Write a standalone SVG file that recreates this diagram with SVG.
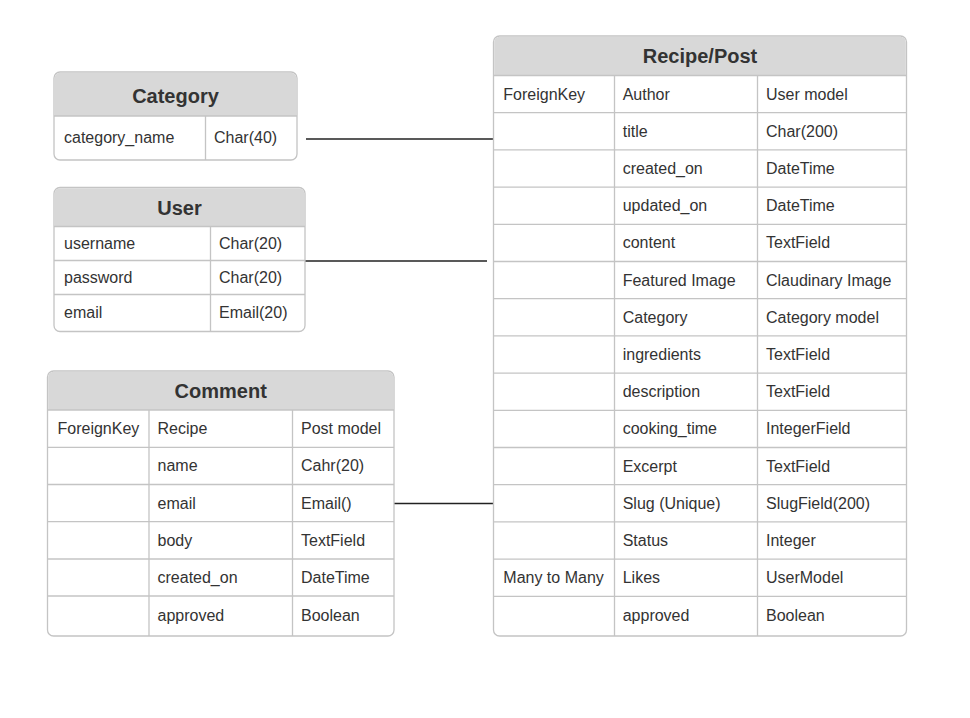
<svg xmlns="http://www.w3.org/2000/svg" width="970" height="718" viewBox="0 0 970 718">
<style>
.box{fill:#ffffff;stroke:#c4c4c4;stroke-width:1.3}
.hdr{fill:#d8d8d8;stroke:none}
.grid{stroke:#c4c4c4;stroke-width:1.3;fill:none}
.title{font-family:"Liberation Sans",Arial,sans-serif;font-size:20px;font-weight:bold;fill:#333333;text-anchor:middle}
.cell{font-family:"Liberation Sans",Arial,sans-serif;font-size:16px;fill:#333333}
.conn{stroke:#222222;stroke-width:1.3;fill:none}
</style>
<rect width="970" height="718" fill="#ffffff"/>
<g id="connectors">
<line class="conn" x1="306" y1="139" x2="493" y2="139"/>
<line class="conn" x1="305" y1="261" x2="487" y2="261"/>
<line class="conn" x1="394" y1="503.5" x2="493" y2="503.5"/>
</g>
<g id="category">
<rect class="box" x="54" y="72" width="243" height="88" rx="6"/>
<path class="hdr" d="M54.7,116 V78 a5.3,5.3 0 0 1 5.3,-5.3 H291 a5.3,5.3 0 0 1 5.3,5.3 V116 Z"/>
<line class="grid" x1="54" y1="116" x2="297" y2="116"/>
<line class="grid" x1="205.5" y1="116" x2="205.5" y2="160"/>
<text class="title" x="175.5" y="102.5">Category</text>
<text class="cell" x="64" y="143">category_name</text>
<text class="cell" x="214" y="143">Char(40)</text>
</g>
<g id="user">
<rect class="box" x="54" y="187.5" width="251" height="144" rx="6"/>
<path class="hdr" d="M54.7,226.5 V193.5 a5.3,5.3 0 0 1 5.3,-5.3 H299 a5.3,5.3 0 0 1 5.3,5.3 V226.5 Z"/>
<line class="grid" x1="54" y1="226.5" x2="305" y2="226.5"/>
<line class="grid" x1="54" y1="260.5" x2="305" y2="260.5"/>
<line class="grid" x1="54" y1="294.5" x2="305" y2="294.5"/>
<line class="grid" x1="210.5" y1="226.5" x2="210.5" y2="331.5"/>
<text class="title" x="179.5" y="214.5">User</text>
<text class="cell" x="64" y="249">username</text>
<text class="cell" x="219" y="249">Char(20)</text>
<text class="cell" x="64" y="283">password</text>
<text class="cell" x="219" y="283">Char(20)</text>
<text class="cell" x="64" y="318">email</text>
<text class="cell" x="219" y="318">Email(20)</text>
</g>
<g id="comment">
<rect class="box" x="47.5" y="371" width="346.5" height="265" rx="6"/>
<path class="hdr" d="M48.2,410 V377 a5.3,5.3 0 0 1 5.3,-5.3 H388 a5.3,5.3 0 0 1 5.3,5.3 V410 Z"/>
<line class="grid" x1="47.5" y1="410" x2="394" y2="410"/>
<line class="grid" x1="47.5" y1="447.3" x2="394" y2="447.3"/>
<line class="grid" x1="47.5" y1="484.5" x2="394" y2="484.5"/>
<line class="grid" x1="47.5" y1="521.7" x2="394" y2="521.7"/>
<line class="grid" x1="47.5" y1="559" x2="394" y2="559"/>
<line class="grid" x1="47.5" y1="596" x2="394" y2="596"/>
<line class="grid" x1="149" y1="410" x2="149" y2="636"/>
<line class="grid" x1="292.5" y1="410" x2="292.5" y2="636"/>
<text class="title" x="220.7" y="397.7">Comment</text>
<text class="cell" x="57.5" y="434">ForeignKey</text>
<text class="cell" x="157.5" y="434">Recipe</text>
<text class="cell" x="301" y="434">Post model</text>
<text class="cell" x="157.5" y="471.4">name</text>
<text class="cell" x="301" y="471.4">Cahr(20)</text>
<text class="cell" x="157.5" y="508.6">email</text>
<text class="cell" x="301" y="508.6">Email()</text>
<text class="cell" x="157.5" y="545.9">body</text>
<text class="cell" x="301" y="545.9">TextField</text>
<text class="cell" x="157.5" y="583">created_on</text>
<text class="cell" x="301" y="583">DateTime</text>
<text class="cell" x="157.5" y="620.5">approved</text>
<text class="cell" x="301" y="620.5">Boolean</text>
</g>
<g id="recipe_post">
<rect class="box" x="493.5" y="36" width="413" height="600" rx="6"/>
<path class="hdr" d="M494.2,75.5 V42 a5.3,5.3 0 0 1 5.3,-5.3 H900.5 a5.3,5.3 0 0 1 5.3,5.3 V75.5 Z"/>
<line class="grid" x1="493.5" y1="75.5" x2="906.5" y2="75.5"/>
<line class="grid" x1="493.5" y1="112.7" x2="906.5" y2="112.7"/>
<line class="grid" x1="493.5" y1="149.9" x2="906.5" y2="149.9"/>
<line class="grid" x1="493.5" y1="187.1" x2="906.5" y2="187.1"/>
<line class="grid" x1="493.5" y1="224.3" x2="906.5" y2="224.3"/>
<line class="grid" x1="493.5" y1="261.5" x2="906.5" y2="261.5"/>
<line class="grid" x1="493.5" y1="298.7" x2="906.5" y2="298.7"/>
<line class="grid" x1="493.5" y1="335.9" x2="906.5" y2="335.9"/>
<line class="grid" x1="493.5" y1="373.1" x2="906.5" y2="373.1"/>
<line class="grid" x1="493.5" y1="410.3" x2="906.5" y2="410.3"/>
<line class="grid" x1="493.5" y1="447.5" x2="906.5" y2="447.5"/>
<line class="grid" x1="493.5" y1="484.7" x2="906.5" y2="484.7"/>
<line class="grid" x1="493.5" y1="521.9" x2="906.5" y2="521.9"/>
<line class="grid" x1="493.5" y1="559.1" x2="906.5" y2="559.1"/>
<line class="grid" x1="493.5" y1="596.3" x2="906.5" y2="596.3"/>
<line class="grid" x1="614.5" y1="75.5" x2="614.5" y2="636"/>
<line class="grid" x1="757.5" y1="75.5" x2="757.5" y2="636"/>
<text class="title" x="700" y="63.3">Recipe/Post</text>
<text class="cell" x="503.3" y="99.6">ForeignKey</text>
<text class="cell" x="622.7" y="99.6">Author</text>
<text class="cell" x="766" y="99.6">User model</text>
<text class="cell" x="622.7" y="136.8">title</text>
<text class="cell" x="766" y="136.8">Char(200)</text>
<text class="cell" x="622.7" y="174">created_on</text>
<text class="cell" x="766" y="174">DateTime</text>
<text class="cell" x="622.7" y="211.2">updated_on</text>
<text class="cell" x="766" y="211.2">DateTime</text>
<text class="cell" x="622.7" y="248.4">content</text>
<text class="cell" x="766" y="248.4">TextField</text>
<text class="cell" x="622.7" y="285.6">Featured Image</text>
<text class="cell" x="766" y="285.6">Claudinary Image</text>
<text class="cell" x="622.7" y="322.8">Category</text>
<text class="cell" x="766" y="322.8">Category model</text>
<text class="cell" x="622.7" y="360">ingredients</text>
<text class="cell" x="766" y="360">TextField</text>
<text class="cell" x="622.7" y="397.2">description</text>
<text class="cell" x="766" y="397.2">TextField</text>
<text class="cell" x="622.7" y="434.4">cooking_time</text>
<text class="cell" x="766" y="434.4">IntegerField</text>
<text class="cell" x="622.7" y="471.6">Excerpt</text>
<text class="cell" x="766" y="471.6">TextField</text>
<text class="cell" x="622.7" y="508.8">Slug (Unique)</text>
<text class="cell" x="766" y="508.8">SlugField(200)</text>
<text class="cell" x="622.7" y="546">Status</text>
<text class="cell" x="766" y="546">Integer</text>
<text class="cell" x="503.3" y="583.2">Many to Many</text>
<text class="cell" x="622.7" y="583.2">Likes</text>
<text class="cell" x="766" y="583.2">UserModel</text>
<text class="cell" x="622.7" y="620.5">approved</text>
<text class="cell" x="766" y="620.5">Boolean</text>
</g>
</svg>
